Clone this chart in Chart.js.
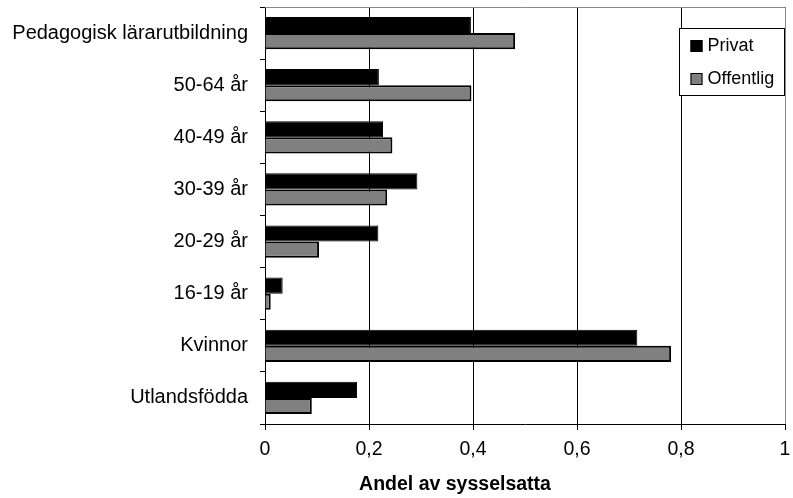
<!DOCTYPE html>
<html>
<head>
<meta charset="utf-8">
<script src="https://cdn.jsdelivr.net/npm/chart.js@4"></script>
<style>
  html, body { margin: 0; padding: 0; background: #fff; }
  #wrap { width: 793px; height: 498px; }
</style>
</head>
<body>
<div id="wrap"><canvas id="chart"></canvas></div>
<script>
// Data
const categories = ['Pedagogisk lärarutbildning', '50-64 år', '40-49 år', '30-39 år', '20-29 år', '16-19 år', 'Kvinnor', 'Utlandsfödda'];
const privat = [0.396, 0.219, 0.227, 0.293, 0.218, 0.034, 0.716, 0.177];
const offentlig = [0.481, 0.397, 0.245, 0.235, 0.104, 0.011, 0.781, 0.090];
const xTicks = [0, 0.2, 0.4, 0.6, 0.8, 1];
const xTitle = 'Andel av sysselsatta';

const FONT = "'Liberation Sans', Arial, sans-serif";

// legend box inside the plot, top right, frame lines and the x axis title
const extras = {
    id: 'extras',
    afterDraw(chart) {
        const c = chart.ctx;
        const a = chart.chartArea;
        c.save();
        // top and right frame lines (grey)
        c.strokeStyle = '#888';
        c.lineWidth = 1;
        c.beginPath();
        c.moveTo(a.left, Math.round(a.top) + 0.5);
        c.lineTo(Math.round(a.right) + 0.5, Math.round(a.top) + 0.5);
        c.lineTo(Math.round(a.right) + 0.5, a.bottom);
        c.stroke();

        // legend
        const bx = a.right - 105.5, by = 28.5, bw = 105, bh = 67;
        c.fillStyle = '#fff';
        c.fillRect(bx, by, bw, bh);
        c.strokeStyle = '#000';
        c.strokeRect(bx, by, bw, bh);
        c.font = '18px ' + FONT;
        c.textBaseline = 'middle';
        chart.data.datasets.forEach((ds, i) => {
            const cy = 46 + i * 33;
            c.fillStyle = ds.backgroundColor;
            c.fillRect(bx + 11, cy - 6, 12, 12);
            c.strokeStyle = '#000';
            c.strokeRect(bx + 11.5, cy - 5.5, 11, 11);
            c.fillStyle = '#000';
            c.fillText(ds.label, bx + 28, cy);
        });

        // x axis title
        c.font = 'bold 19.5px ' + FONT;
        c.textAlign = 'center';
        c.textBaseline = 'alphabetic';
        c.fillText(xTitle, 455, 490);
        c.restore();
    }
};

new Chart(document.getElementById('chart'), {
    type: 'bar',
    data: {
        labels: categories,
        datasets: [{
            label: 'Privat',
            data: privat,
            backgroundColor: '#000000',
            borderColor: '#000000',
            borderWidth: 1
        }, {
            label: 'Offentlig',
            data: offentlig,
            backgroundColor: '#808080',
            borderColor: '#000000',
            borderWidth: 2
        }]
    },
    options: {
        indexAxis: 'y',
        responsive: true,
        maintainAspectRatio: false,
        animation: false,
        datasets: {
            bar: {
                categoryPercentage: 0.62,
                barPercentage: 1
            }
        },
        layout: {
            padding: { top: 7, right: 8, left: 0, bottom: 0 }
        },
        plugins: {
            legend: { display: false },
            tooltip: { enabled: false }
        },
        scales: {
            x: {
                min: 0,
                max: 1,
                afterFit: function(scale) {
                    scale.height = 74;
                    scale.paddingLeft = 0;
                    scale.paddingRight = 0;
                },
                afterBuildTicks: function(scale) {
                    scale.ticks = xTicks.map(v => ({ value: v }));
                },
                grid: {
                    color: '#000',
                    lineWidth: 1,
                    tickLength: 6,
                    tickColor: '#000'
                },
                border: { color: '#000', width: 1 },
                ticks: {
                    color: '#000',
                    padding: 8,
                    maxRotation: 0,
                    autoSkip: false,
                    font: { family: FONT, size: 19.5 },
                    callback: function(v) {
                        return String(Math.round(v * 10) / 10).replace('.', ',');
                    }
                }
            },
            y: {
                offset: true,
                afterFit: function(scale) {
                    scale.width = 265;
                    scale.paddingTop = 0;
                    scale.paddingBottom = 0;
                },
                grid: {
                    offset: true,
                    drawOnChartArea: false,
                    tickLength: 5,
                    color: '#000'
                },
                border: { color: '#000', width: 1 },
                ticks: {
                    color: '#000',
                    padding: 12,
                    font: { family: FONT, size: 20 }
                }
            }
        }
    },
    plugins: [extras]
});
</script>
</body>
</html>
